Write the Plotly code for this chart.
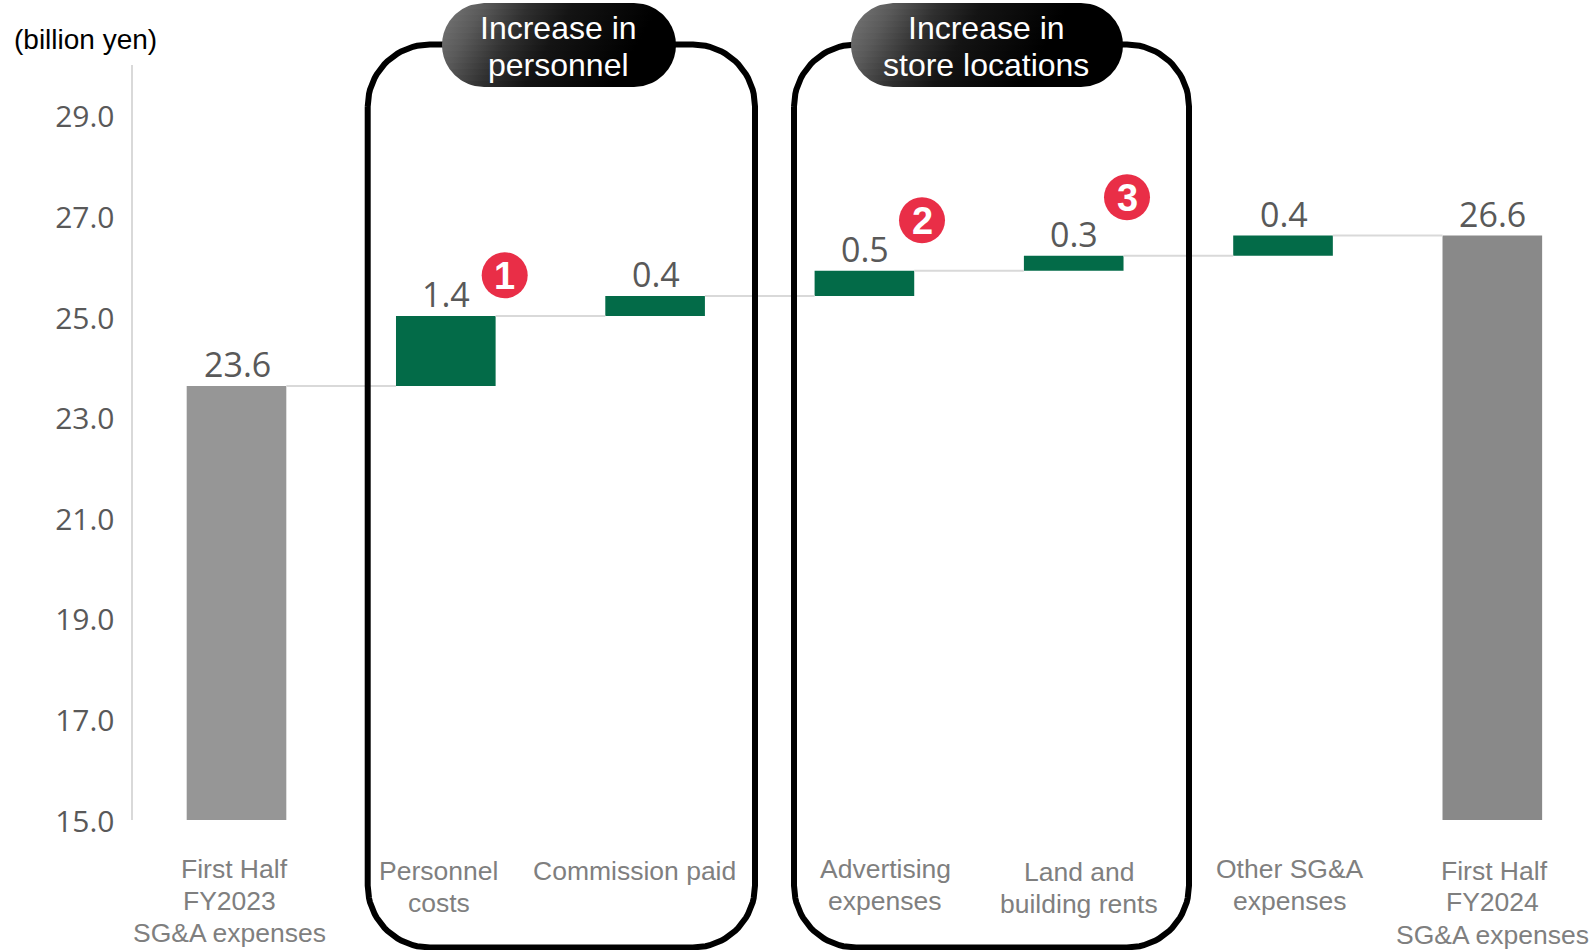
import numpy as np
import plotly.graph_objects as go

# ---- data ----
categories = ["First Half\nFY2023\nSG&A expenses", "Personnel\ncosts", "Commission paid",
              "Advertising\nexpenses", "Land and\nbuilding rents", "Other SG&A\nexpenses",
              "First Half\nFY2024\nSG&A expenses"]
bar_base = [15.0, 23.63, 25.02, 25.42, 25.92, 26.22, 15.0]
bar_top = [23.63, 25.02, 25.42, 25.92, 26.22, 26.62, 26.62]
bar_labels = ["23.6", "1.4", "0.4", "0.5", "0.3", "0.4", "26.6"]
bar_colors = ["#969696", "#036B48", "#036B48", "#036B48", "#036B48", "#036B48", "#898989"]
y_ticks = [15, 17, 19, 21, 23, 25, 27, 29]
group_titles = ["Increase in\npersonnel", "Increase in\nstore locations"]
badge_numbers = ["1", "2", "3"]

# ---- layout geometry (page pixels) ----
W, H = 1593, 950
BAR_W = 0.476
label_x = [[234.5, 229.5, 229.5], [438, 439], [634], [885, 884], [1079, 1079], [1290, 1289], [1494, 1492, 1492]]
label_y = [[868.5, 900.5, 933], [870.5, 903], [871], [869, 900.5], [871.5, 904], [869, 900.5], [870.5, 902, 934.5]]
boxes = [(367.7, 755, 44.5, 947.5), (794, 1189, 44.5, 947.5)]
pills = [(442, 676, 3, 87, 558.3), (851, 1123, 3, 87, 986)]
badges_x = [504.7, 922, 1127]
badges_y = [275.3, 220.3, 197.3]

fig = go.Figure()

# bars
xs = list(range(len(categories)))
fig.add_trace(go.Bar(
    x=xs, y=[t - b for t, b in zip(bar_top, bar_base)], base=bar_base, width=BAR_W,
    marker=dict(color=bar_colors, line_width=0), cliponaxis=False,
    hoverinfo="skip", showlegend=False))

# value labels sit a fixed distance above each bar top
for i, label in zip(xs, bar_labels):
    fig.add_annotation(x=i, y=bar_top[i], xref="x", yref="y", xshift=0.5, yanchor="middle", yshift=22,
                       text=label, showarrow=False,
                       font=dict(family="Open Sans", size=34, color="#595959"))

# connector lines
for i in xs[:-1]:
    fig.add_trace(go.Scatter(
        x=[i + BAR_W / 2, i + 1 - BAR_W / 2], y=[bar_top[i], bar_top[i]], mode="lines",
        line=dict(color="#D9D9D9", width=2), hoverinfo="skip", showlegend=False))


def rounded(x0, x1, y0, y1, r):
    t = np.linspace(0, np.pi / 2, 24)
    px = np.concatenate([x0 + r - r * np.cos(t), x1 - r + r * np.sin(t),
                         x1 - r + r * np.cos(t), x0 + r - r * np.sin(t), [x0]])
    py = np.concatenate([y0 + r - r * np.sin(t), y0 + r - r * np.cos(t),
                         y1 - r + r * np.sin(t), y1 - r + r * np.cos(t), [y0 + r]])
    return px, py


# group frames
for (x0, x1, y0, y1) in boxes:
    px, py = rounded(x0, x1, y0, y1, 62)
    fig.add_trace(go.Scatter(x=px, y=py, xaxis="x2", yaxis="y2", mode="lines",
                             line=dict(color="#000000", width=6), hoverinfo="skip", showlegend=False))

# group title pills: stacked rows, each with a shifted horizontal gradient, give a diagonal sheen
PILL_SCALE = [[0, "#7A7A7A"], [0.2, "#5A5A5A"], [0.4, "#303030"], [0.6, "#141414"], [1, "#000000"]]
for (x0, x1, y0, y1, cx), title in zip(pills, group_titles):
    r = (y1 - y0) / 2
    for a in range(y0, y1, 6):
        ys = np.linspace(a, a + 6, 7)
        inset = r - np.sqrt(np.maximum(r ** 2 - (ys - y0 - r) ** 2, 0))
        px = np.concatenate([x0 + inset, (x1 - inset)[::-1]])
        py = np.concatenate([ys, ys[::-1]])
        offset = 0.6 * (a + 3 - y0)
        fig.add_trace(go.Scatter(
            x=px, y=py, xaxis="x2", yaxis="y2", mode="lines", fill="toself",
            line=dict(width=0, color="#000000"),
            fillgradient=dict(type="horizontal", colorscale=PILL_SCALE,
                              start=x0 - offset, stop=x0 - offset + 220),
            hoverinfo="skip", showlegend=False))
    for line, ty in zip(title.split("\n"), [27.5, 65]):
        fig.add_annotation(x=cx, y=ty, xref="x2", yref="y2", text=line, showarrow=False,
                           font=dict(family="Liberation Sans", size=32, color="#FFFFFF"))

# numbered badges
fig.add_trace(go.Scatter(
    x=badges_x, y=badges_y, xaxis="x2", yaxis="y2", mode="markers",
    marker=dict(color="#E92E47", size=46, line_width=0), hoverinfo="skip", showlegend=False))
for num, bx, by in zip(badge_numbers, badges_x, badges_y):
    fig.add_annotation(x=bx, y=by, xref="x2", yref="y2", yshift=-1, text=num, showarrow=False,
                       font=dict(family="Liberation Sans", size=38, color="#FFFFFF", weight="bold"))

# category labels
for name, lx, ly in zip(categories, label_x, label_y):
    for line, x, y in zip(name.split("\n"), lx, ly):
        fig.add_annotation(x=x, y=y, xref="x2", yref="y2", text=line, showarrow=False,
                           font=dict(family="Liberation Sans", size=26.5, color="#7F7F7F"))

fig.add_annotation(x=85, y=39, xref="x2", yref="y2", text="(billion yen)", showarrow=False,
                   font=dict(family="Liberation Sans", size=28, color="#000000"))

fig.update_layout(
    template="none",
    width=W, height=H, autosize=False, margin=dict(l=0, r=0, t=0, b=0, pad=0),
    paper_bgcolor="#FFFFFF", plot_bgcolor="rgba(0,0,0,0)", showlegend=False,
    xaxis=dict(domain=[132.5 / W, 1], range=[-0.4969, 6.481], visible=False, anchor="y", fixedrange=True, automargin=False),
    yaxis=dict(domain=[(H - 820) / H, (H - 65) / H], range=[15, 30.01], anchor="x", automargin=False,
               tickmode="array", tickvals=y_ticks, ticktext=[f"{v:.1f}" for v in y_ticks],
               showgrid=False, zeroline=False, showline=True, linecolor="#D9D9D9", linewidth=2,
               ticks="outside", ticklen=10, tickcolor="rgba(0,0,0,0)", ticklabelshift=1,
               tickfont=dict(family="Open Sans", size=30, color="#595959"), fixedrange=True),
    xaxis2=dict(domain=[0, 1], range=[0, W], visible=False, anchor="y2", fixedrange=True, automargin=False),
    yaxis2=dict(domain=[0, 1], range=[H, 0], visible=False, anchor="x2", fixedrange=True, automargin=False),
)

fig.write_html("out.html", post_script="document.body.style.margin='0';", config={"displayModeBar": False})
